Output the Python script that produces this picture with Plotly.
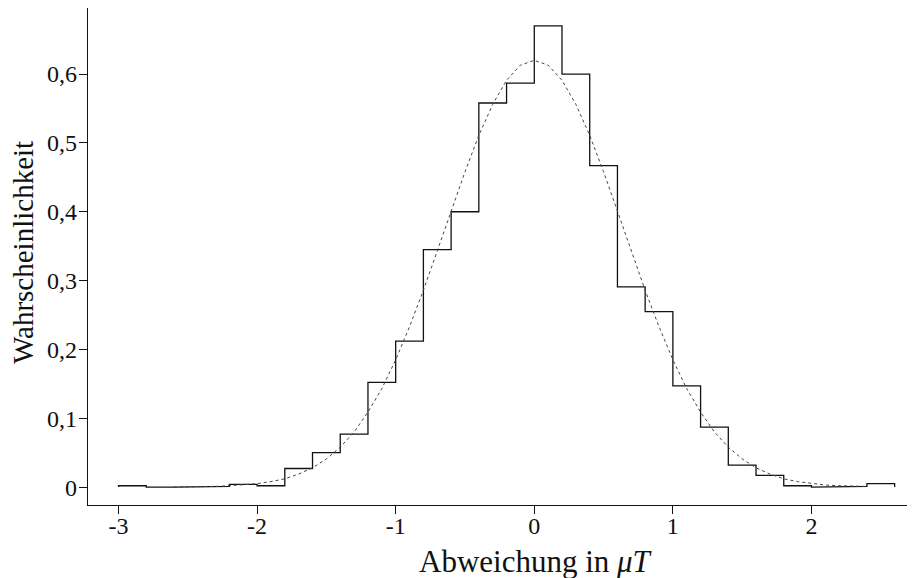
import plotly.graph_objects as go

# Histogram bin edges (width 0.2) and read heights
bin_edges = [-3.0, -2.8, -2.6, -2.4, -2.2, -2.0, -1.8, -1.6, -1.4, -1.2, -1.0,
             -0.8, -0.6, -0.4, -0.2, 0.0, 0.2, 0.4, 0.6, 0.8, 1.0, 1.2, 1.4,
             1.6, 1.8, 2.0, 2.2, 2.4, 2.6]
hist_values = [0.002, 0.000, 0.000, 0.001, 0.004, 0.002, 0.027, 0.050, 0.077,
               0.152, 0.212, 0.345, 0.400, 0.558, 0.587, 0.670, 0.600, 0.467,
               0.291, 0.255, 0.147, 0.087, 0.032, 0.017, 0.002, 0.000, 0.001,
               0.005]

# Fitted curve
curve_x = [-2.6, -2.5, -2.4, -2.3, -2.2, -2.1, -2.0, -1.9, -1.8, -1.7, -1.6,
           -1.5, -1.4, -1.3, -1.2, -1.1, -1.0, -0.9, -0.8, -0.7, -0.6, -0.5,
           -0.4, -0.3, -0.2, -0.1, 0.0, 0.1, 0.2, 0.3, 0.4, 0.5, 0.6, 0.7,
           0.8, 0.9, 1.0, 1.1, 1.2, 1.3, 1.4, 1.5, 1.6, 1.7, 1.8, 1.9, 2.0,
           2.1, 2.2, 2.3, 2.4]
curve_y = [0.000, 0.000, 0.001, 0.001, 0.002, 0.003, 0.005, 0.008, 0.012,
           0.019, 0.028, 0.041, 0.058, 0.080, 0.109, 0.143, 0.185, 0.233,
           0.286, 0.343, 0.401, 0.458, 0.511, 0.556, 0.591, 0.613, 0.620,
           0.613, 0.591, 0.556, 0.511, 0.458, 0.401, 0.343, 0.286, 0.233,
           0.185, 0.143, 0.109, 0.080, 0.058, 0.041, 0.028, 0.019, 0.012,
           0.008, 0.005, 0.003, 0.002, 0.001, 0.001]

x_tickvals = [-3, -2, -1, 0, 1, 2]
x_ticktext = ["-3", "-2", "-1", "0", "1", "2"]
y_tickvals = [0, 0.1, 0.2, 0.3, 0.4, 0.5, 0.6]
y_ticktext = ["0", "0,1", "0,2", "0,3", "0,4", "0,5", "0,6"]
x_title = "Abweichung in <i>μT</i>"
y_title = "Wahrscheinlichkeit"

# Build step outline from the bins
step_x = [bin_edges[0]]
step_y = [0.0]
for i, v in enumerate(hist_values):
    step_x += [bin_edges[i], bin_edges[i + 1]]
    step_y += [v, v]
step_x.append(bin_edges[-1])
step_y.append(0.0)

FONT = "Liberation Serif"

fig = go.Figure()
fig.add_trace(go.Scatter(x=step_x, y=step_y, mode="lines",
                         line=dict(color="#111111", width=1.3),
                         showlegend=False, hoverinfo="skip"))
fig.add_trace(go.Scatter(x=curve_x, y=curve_y, mode="lines",
                         line=dict(color="#444444", width=1, dash="dot"),
                         showlegend=False, hoverinfo="skip"))

fig.update_layout(
    width=915, height=578,
    margin=dict(l=80, r=8, t=0, b=81),
    paper_bgcolor="white", plot_bgcolor="white",
    font=dict(family=FONT, size=24, color="#111111"),
    xaxis=dict(range=[-3.22, 2.747], tickvals=x_tickvals, ticktext=x_ticktext,
               showgrid=False, zeroline=False, showline=True, linecolor="#111111",
               linewidth=1.3, mirror=True, ticks="outside", ticklen=8,
               tickcolor="#111111", tickwidth=1, tickfont=dict(size=24),
               ticklabelstandoff=-9),
    yaxis=dict(range=[-0.026, 0.696], tickvals=y_tickvals, ticktext=y_ticktext,
               showgrid=False, zeroline=False, showline=True, linecolor="#111111",
               linewidth=1.3, mirror=False, ticks="outside", ticklen=8,
               tickcolor="#111111", tickwidth=1, tickfont=dict(size=24),
               ticklabelstandoff=-3),
    annotations=[
        dict(text=x_title, xref="paper", yref="paper", x=0.5417, y=-0.1127,
             xanchor="center", yanchor="middle", showarrow=False,
             font=dict(size=31)),
        dict(text=y_title, xref="paper", yref="paper", x=-0.0786, y=0.509,
             xanchor="center", yanchor="middle", showarrow=False, textangle=-90,
             font=dict(size=29)),
    ],
)

fig.write_html("out.html")
